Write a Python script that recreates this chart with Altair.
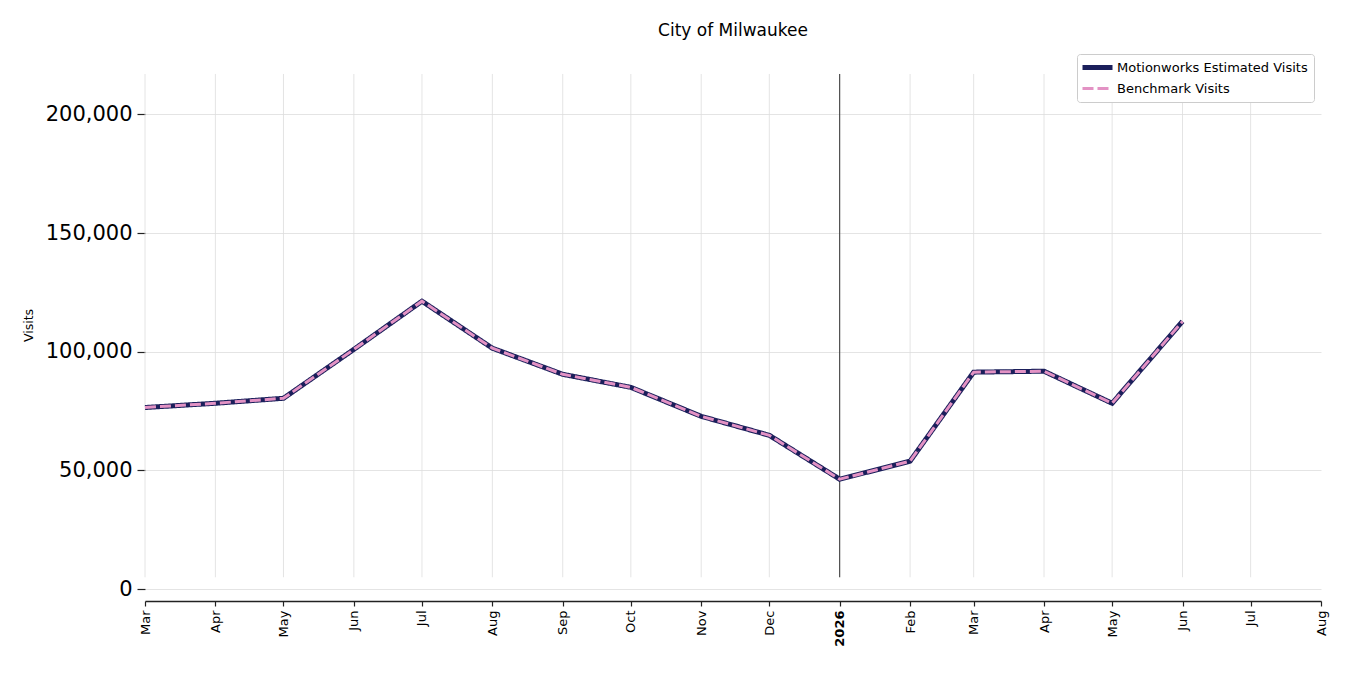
import altair as alt
import pandas as pd

# ---- data ----
months = ["2025-03-01", "2025-04-01", "2025-05-01", "2025-06-01", "2025-07-01",
          "2025-08-01", "2025-09-01", "2025-10-01", "2025-11-01", "2025-12-01",
          "2026-01-01", "2026-02-01", "2026-03-01", "2026-04-01", "2026-05-01",
          "2026-06-01"]
motionworks = [76500, 78300, 80400, 101000, 121300, 101500, 90500, 85000,
               72800, 64800, 46300, 53900, 91400, 91800, 78300, 112800]
benchmark = [76500, 78300, 80400, 101000, 121300, 101500, 90500, 85000,
             72800, 64800, 46300, 53900, 91400, 91800, 78300, 112800]

tick_dates = ["2025-03-01", "2025-04-01", "2025-05-01", "2025-06-01", "2025-07-01",
              "2025-08-01", "2025-09-01", "2025-10-01", "2025-11-01", "2025-12-01",
              "2026-01-01", "2026-02-01", "2026-03-01", "2026-04-01", "2026-05-01",
              "2026-06-01", "2026-07-01", "2026-08-01"]
grid_dates = tick_dates[:-1]
marker_date = ["2026-01-01"]
y_ticks = [0, 50000, 100000, 150000, 200000]
series_names = ["Motionworks Estimated Visits", "Benchmark Visits"]
series_colors = ["#1b1f5b", "#e392c4"]
title_text = "City of Milwaukee"
y_title = "Visits"

FONT = "DejaVu Sans"


def ms(d):
    return int(pd.Timestamp(d, tz="UTC").value // 10**6)


df = pd.concat([
    pd.DataFrame({"date": months, "visits": motionworks, "series": series_names[0]}),
    pd.DataFrame({"date": months, "visits": benchmark, "series": series_names[1]}),
])
grid_df = pd.DataFrame({"date": grid_dates})
marker_df = pd.DataFrame({"date": marker_date})

x_scale = alt.Scale(type="utc", domain=[ms(tick_dates[0]), ms(tick_dates[-1])])
y_scale = alt.Scale(domain=[-5000, 217000], nice=False, zero=False)

x_axis = alt.Axis(
    values=[ms(d) for d in tick_dates],
    labelExpr="utcmonth(datum.value) == 0 ? utcFormat(datum.value, '%Y') : utcFormat(datum.value, '%b')",
    labelFontWeight={"condition": {"test": "utcmonth(datum.value) == 0", "value": "bold"}, "value": "normal"},
    labelAngle=-90, labelFont=FONT, labelFontSize=13, labelColor="#000000",
    labelPadding=4, labelOverlap=False, labelFlush=False,
    domainColor="#222222", domainWidth=1.6, tickColor="#222222", tickSize=5,
    tickWidth=1.2, grid=False, title=None,
)
y_axis = alt.Axis(
    values=y_ticks, labelExpr="format(datum.value, ',')", labelFont=FONT,
    labelFontSize=21, labelColor="#000000",
    labelPadding=5, domain=False, tickColor="#222222", tickSize=8, tickWidth=1.2,
    grid=True, gridColor="#dddddd", gridWidth=0.8, title=y_title, titleFont=FONT,
    titleFontSize=12.5, titleFontWeight="normal", titleColor="#000000", titlePadding=10,
    titleY=251,
)

legend = alt.Legend(
    title=None, orient="none", legendX=932, legendY=-20, labelFont=FONT,
    labelFontSize=13, labelColor="#000000", labelLimit=400,
    symbolType="M-3,0H3", symbolSize=100, symbolOffset=7,
    padding=6, strokeColor="#cccccc", cornerRadius=3, fillColor="#ffffff",
    rowPadding=4, labelOffset=12,
)

enc_common = dict(
    color=alt.Color("series:N", scale=alt.Scale(domain=series_names, range=series_colors), legend=legend),
    strokeDash=alt.StrokeDash("series:N", scale=alt.Scale(domain=series_names, range=[[1, 0], [11, 4]]), legend=legend),
    strokeWidth=alt.StrokeWidth("series:N", scale=alt.Scale(domain=series_names, range=[5, 3]), legend=legend),
)

grid = alt.Chart(grid_df).mark_rule(color="#dddddd", strokeWidth=0.8).encode(
    x=alt.X("date:T", scale=x_scale, axis=x_axis),
    y=alt.datum(5000, scale=y_scale, axis=y_axis),
    y2=alt.datum(217000),
)

marker = alt.Chart(marker_df).mark_rule(color="#000000", strokeWidth=0.8).encode(
    x=alt.X("date:T", scale=x_scale),
    y=alt.datum(5000),
    y2=alt.datum(217000),
)

base = alt.Chart(df).encode(
    x=alt.X("date:T", scale=x_scale),
    y=alt.Y("visits:Q", scale=y_scale, axis=y_axis),
    **enc_common,
)
line1 = base.transform_filter(alt.datum.series == series_names[0]).mark_line(strokeJoin="miter")
line2 = base.transform_filter(alt.datum.series == series_names[1]).mark_line(strokeJoin="miter")

chart = alt.layer(grid, marker, line1, line2).properties(
    width=1176, height=527,
    title=alt.TitleParams(title_text, font=FONT, fontSize=17, fontWeight="normal",
                          color="#000000", frame="group", anchor="middle",
                          baseline="middle", offset=6),
    autosize=alt.AutoSizeParams(type="none"),
    padding={"left": 137, "top": 66, "right": 21, "bottom": 66},
    background="#ffffff",
).configure_view(stroke=None)

chart.save("out.html", embed_options={"renderer": "svg", "actions": False})
